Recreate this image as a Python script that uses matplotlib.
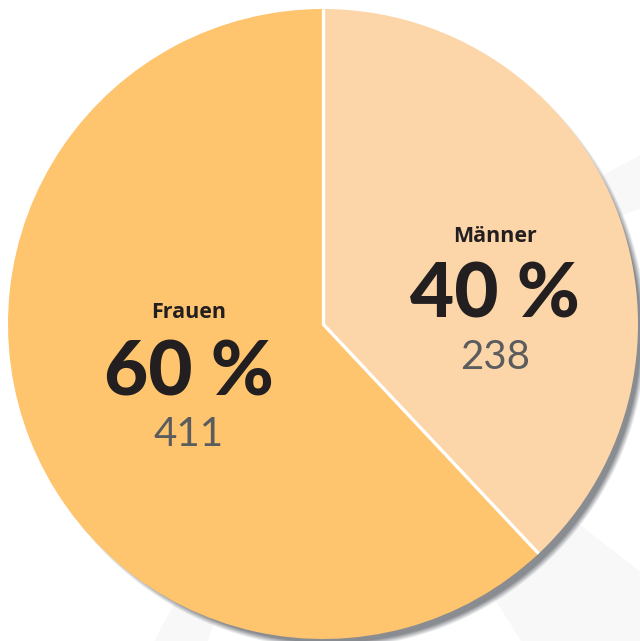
import numpy as np
import matplotlib.pyplot as plt
from matplotlib.patches import Wedge

# data
groups = ['Männer', 'Frauen']
share = [38, 62]          # wedge sizes as drawn
pct_labels = ['40 %', '60 %']
counts = ['238', '411']
colors = ['#FCD6A8', '#FEC46E']

W, H = 640, 641
cx, cy = 323, 641 - 324
R = 315

fig = plt.figure(figsize=(6.4, 6.41), dpi=100)
ax = fig.add_axes([0, 0, 1, 1])
ax.set_xlim(0, W)
ax.set_ylim(0, H)
ax.set_aspect('equal')
ax.axis('off')

# faint background rays
for a1, a2 in [(20, 28), (-58, -38), (-118, -110)]:
    ax.add_patch(Wedge((cx, cy), 900, a1, a2, color='#f8f8f8', zorder=0, lw=0))

# soft drop shadow
yy, xx = np.mgrid[0:H, 0:W]
d = np.hypot(xx - (cx + 7), (H - yy) - (cy - 8))
alpha = np.clip((R + 1 - d) / 6.0, 0, 1)
shadow = np.zeros((H, W, 4))
shadow[..., 0] = 0.54
shadow[..., 1] = 0.55
shadow[..., 2] = 0.57
shadow[..., 3] = alpha
ax.imshow(shadow, extent=(0, W, 0, H), origin='upper', zorder=1, interpolation='bilinear')

wedges, _ = ax.pie(share, colors=colors, startangle=90, counterclock=False,
                   center=(cx, cy), radius=R, wedgeprops=dict(linewidth=0))
for w in wedges:
    w.set_zorder(2)
ax.set_xlim(0, W)
ax.set_ylim(0, H)

# white separators
for w in wedges:
    th = np.deg2rad(w.theta1)
    ax.plot([cx, cx + R * np.cos(th)], [cy, cy + R * np.sin(th)],
            color='white', lw=2.4, solid_capstyle='butt', zorder=3)

# labels
pos = [(495, 641 - 236), (189, 641 - 313)]
for (x, y), g, p, c in zip(pos, groups, pct_labels, counts):
    ax.text(x, y, g, ha='center', va='center', fontsize=15.5, fontweight='bold',
            family='Open Sans', color='#231f20', zorder=4)
    ax.text(x, y - 82, p, ha='center', va='baseline', fontsize=55, fontweight='black',
            family='Lato', color='#231f20', zorder=4)
    ax.text(x, y - 133, c, ha='center', va='baseline', fontsize=29, fontweight='normal',
            family='Lato', color='#5b5c5e', zorder=4)

fig.savefig('out.png', dpi=100, facecolor='white')
